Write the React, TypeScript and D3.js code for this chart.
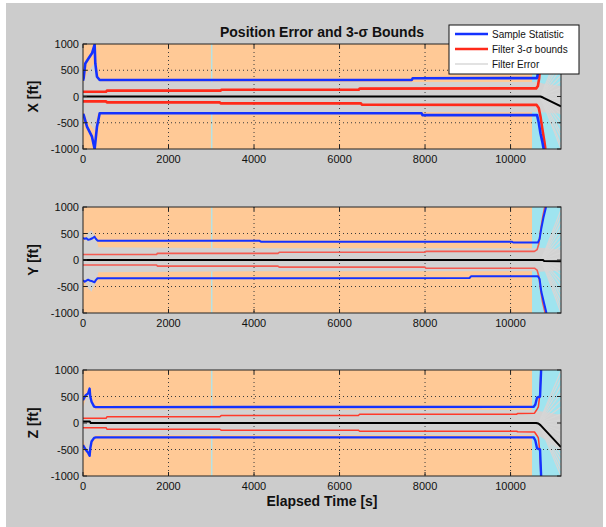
import React from "react";
import * as d3 from "d3";

type Pt = [number, number];

const T_MAX = 11180;
const CYAN_START = 10503;
const phaseMarks = [3010];
const timeTicks = [0, 2000, 4000, 6000, 8000, 10000];
const valueTicks = [-1000, -500, 0, 500, 1000];
const gridValues = [-500, 500];

const titleText = "Position Error and 3-\u03C3 Bounds";
const xLabelText = "Elapsed Time [s]";
const legendLabels = ["Sample Statistic", "Filter 3-\u03C3 bounds", "Filter Error"];

// ---------- X ----------
const xSampleUpper: Pt[] = [[0, 300], [15, 347], [54, 630], [132, 727], [210, 822], [272, 990], [288, 630], [327, 377], [390, 314], [7690, 314], [7710, 347], [10620, 350], [10650, 500], [10680, 800], [10700, 1000]];
const xSampleLower: Pt[] = [[0, -330], [15, -352], [93, -575], [210, -765], [272, -1000], [327, -575], [390, -320], [7920, -320], [7940, -355], [10620, -355], [10660, -500], [10700, -700], [10740, -850], [10775, -1000]];
const xBoundUpper: Pt[] = [[0, 90], [540, 90], [560, 112], [3220, 112], [3240, 128], [6450, 128], [6470, 150], [10600, 155], [10640, 200], [10670, 350], [10700, 650], [10720, 1000]];
const xBoundLower: Pt[] = [[0, -92], [540, -92], [560, -112], [3200, -112], [3220, -130], [6500, -130], [6520, -155], [10610, -160], [10660, -220], [10700, -380], [10740, -600], [10790, -850], [10815, -1000]];
const xMean: Pt[] = [[0, 0], [10700, 0], [10760, -20], [11180, -190]];
const xErrTimes = [0, 100, 200, 280, 330, 450, 3000, 6000, 10500, 10650, 10750, 11180];
const xErrUpper = [250, 450, 560, 650, 330, 285, 280, 275, 275, 280, 250, 200];
const xErrLower = [-250, -450, -560, -650, -340, -295, -295, -295, -300, -300, -300, -330];
const xFanEnds = [-1000, -920, -780, -690, -560, -460, -340, -250, -150, -60, 60, 170, 290, 400, 530, 660, 800, 950];

// ---------- Y ----------
const ySampleUpper: Pt[] = [[0, 420], [40, 400], [80, 410], [120, 380], [170, 392], [220, 410], [270, 440], [300, 400], [340, 365], [4120, 365], [4160, 345], [10030, 345], [10060, 330], [10640, 330], [10680, 400], [10720, 600], [10770, 800], [10830, 1000]];
const ySampleLower: Pt[] = [[0, -380], [40, -410], [80, -390], [120, -372], [170, -392], [220, -402], [270, -420], [300, -380], [340, -345], [9040, -340], [9080, -305], [10640, -305], [10680, -360], [10720, -600], [10780, -800], [10840, -1000]];
const yBoundUpper: Pt[] = [[0, 105], [1720, 105], [1740, 125], [4560, 125], [4590, 145], [8000, 145], [8020, 162], [10560, 162], [10620, 195], [10660, 300], [10700, 550], [10750, 800], [10800, 1000]];
const yBoundLower: Pt[] = [[0, -95], [1720, -95], [1740, -115], [4560, -115], [4590, -135], [8000, -135], [8020, -155], [10560, -155], [10620, -190], [10660, -300], [10700, -550], [10750, -800], [10810, -1000]];
const yMean: Pt[] = [[0, 0], [10760, 0], [10780, -18], [11180, -25]];
const yErrTimes = [0, 100, 200, 300, 360, 3000, 8000, 10500, 10700, 11180];
const yErrUpper = [300, 500, 560, 420, 240, 225, 220, 220, 230, 200];
const yErrLower = [-320, -520, -600, -420, -230, -215, -210, -210, -220, -200];
const yFanEnds = [-1000, -900, -800, -690, -600, -480, -390, -270, -170, -80, 40, 140, 260, 370, 480, 600, 720, 840, 950];

// ---------- Z ----------
const zSampleUpper: Pt[] = [[0, 430], [60, 520], [120, 560], [155, 650], [170, 500], [200, 400], [260, 310], [300, 300], [10540, 305], [10580, 350], [10620, 480], [10690, 500], [10700, 700], [10715, 1000]];
const zSampleLower: Pt[] = [[0, -415], [60, -500], [120, -560], [155, -620], [170, -480], [200, -350], [260, -280], [300, -272], [10540, -272], [10580, -330], [10620, -480], [10690, -500], [10700, -700], [10715, -1000]];
const zBoundUpper: Pt[] = [[0, 88], [540, 88], [560, 118], [3200, 118], [3230, 140], [6440, 140], [6470, 165], [10140, 165], [10170, 180], [10560, 185], [10620, 260], [10650, 305], [10680, 500], [10700, 800], [10710, 1000]];
const zBoundLower: Pt[] = [[0, -88], [540, -88], [560, -118], [3200, -118], [3230, -135], [6440, -135], [6470, -155], [10140, -155], [10170, -165], [10560, -170], [10620, -240], [10650, -280], [10680, -500], [10700, -800], [10710, -1000]];
const zMean: Pt[] = [[0, 30], [160, 30], [180, 0], [10600, 0], [10650, -10], [10700, -40], [11180, -455]];
const zErrTimes = [0, 80, 155, 200, 280, 3000, 8000, 10500, 10700, 11180];
const zErrUpper = [300, 480, 560, 380, 250, 250, 245, 245, 220, 150];
const zErrLower = [-300, -480, -540, -360, -230, -228, -228, -228, -260, -520];
const zFanEnds = [-1000, -900, -800, -700, -610, -520, -430, -330, -240, -150, -60, 60, 170, 300, 430, 560, 700, 850, 980];

const PEACH = "#ffc996";
const CYAN = "#9fe4ef";
const FIG_BG = "#cccccc";
const BAND = "#d2d2d2";
const FAN = "#d6d6d6";
const BLUE = "#1432ff";
const RED = "#ff2a1a";
const FONT = "'Liberation Sans', Arial, Helvetica, sans-serif";

const LEFT = 83;
const RIGHT = 561;

interface SubProps {
  id: string;
  top: number;
  bottom: number;
  label: string;
  sUp: Pt[];
  sLo: Pt[];
  bUp: Pt[];
  bLo: Pt[];
  mean: Pt[];
  eT: number[];
  eUp: number[];
  eLo: number[];
  fan: number[];
  fanStart: number;
  blueW: number;
  redW: number;
  redColor: string;
}

function Subplot(p: SubProps) {
  const x = d3.scaleLinear().domain([0, T_MAX]).range([LEFT, RIGHT]);
  const y = d3.scaleLinear().domain([-1000, 1000]).range([p.bottom, p.top]);
  const line = d3.line<Pt>().x((d) => x(d[0])).y((d) => y(d[1]));
  const area = d3
    .area<number>()
    .x((t) => x(t))
    .y0((_t, i) => y(p.eLo[i]))
    .y1((_t, i) => y(p.eUp[i]));
  const bandPath = area(p.eT) || "";
  const clipId = `clip-${p.id}`;
  const h = p.bottom - p.top;
  const cy = (p.top + p.bottom) / 2;
  return (
    <g>
      <defs>
        <clipPath id={clipId}>
          <rect x={LEFT} y={p.top} width={RIGHT - LEFT} height={h} />
        </clipPath>
      </defs>
      <g clipPath={`url(#${clipId})`}>
        <rect x={x(0)} y={p.top} width={x(CYAN_START) - x(0)} height={h} fill={PEACH} />
        <rect x={x(CYAN_START)} y={p.top} width={x(T_MAX) - x(CYAN_START)} height={h} fill={CYAN} />
        {phaseMarks.map((t) => (
          <line key={t} x1={x(t)} x2={x(t)} y1={p.top} y2={p.bottom} stroke="#b4e2e6" strokeWidth={1.5} />
        ))}
        <path d={bandPath} fill={BAND} stroke="none" />
        {p.fan.map((v, i) => (
          <line key={i} x1={x(p.fanStart)} y1={y(0)} x2={x(T_MAX)} y2={y(v)} stroke={FAN} strokeWidth={1.2} />
        ))}
        {timeTicks.slice(1).map((t) => (
          <line key={t} x1={x(t)} x2={x(t)} y1={p.top} y2={p.bottom} stroke="#3a3a3a" strokeWidth={1} strokeDasharray="1,3" />
        ))}
        {gridValues.map((v) => (
          <line key={v} x1={LEFT} x2={RIGHT} y1={y(v)} y2={y(v)} stroke="#3a3a3a" strokeWidth={1} strokeDasharray="1,3" />
        ))}
        <path d={line(p.bUp) || ""} fill="none" stroke={p.redColor} strokeWidth={p.redW} strokeLinejoin="round" />
        <path d={line(p.bLo) || ""} fill="none" stroke={p.redColor} strokeWidth={p.redW} strokeLinejoin="round" />
        <path d={line(p.sUp) || ""} fill="none" stroke={BLUE} strokeWidth={p.blueW} strokeLinejoin="round" />
        <path d={line(p.sLo) || ""} fill="none" stroke={BLUE} strokeWidth={p.blueW} strokeLinejoin="round" />
        <path d={line(p.mean) || ""} fill="none" stroke="#000" strokeWidth={2} strokeLinejoin="round" />
      </g>
      <rect x={LEFT} y={p.top} width={RIGHT - LEFT} height={h} fill="none" stroke="#222" strokeWidth={1} />
      {timeTicks.map((t) => (
        <g key={t}>
          <line x1={x(t)} x2={x(t)} y1={p.bottom} y2={p.bottom - 4} stroke="#222" />
          <line x1={x(t)} x2={x(t)} y1={p.top} y2={p.top + 4} stroke="#222" />
          <text x={x(t)} y={p.bottom + 14} fontSize={11} fontFamily={FONT} textAnchor="middle" fill="#111">
            {t}
          </text>
        </g>
      ))}
      {valueTicks.map((v) => (
        <g key={v}>
          <line x1={LEFT} x2={LEFT + 4} y1={y(v)} y2={y(v)} stroke="#222" />
          <line x1={RIGHT} x2={RIGHT - 4} y1={y(v)} y2={y(v)} stroke="#222" />
          <text x={LEFT - 4} y={y(v) + 4} fontSize={11} fontFamily={FONT} textAnchor="end" fill="#111">
            {v}
          </text>
        </g>
      ))}
      <text
        transform={`translate(38,${cy}) rotate(-90)`}
        fontSize={14}
        fontWeight="bold"
        fontFamily={FONT}
        textAnchor="middle"
        fill="#111"
      >
        {p.label}
      </text>
    </g>
  );
}

export default function App() {
  const legendColors = [BLUE, RED, "#d8d8d8"];
  return (
    <svg
      width={606}
      height={527}
      style={{ position: "absolute", left: 0, top: 0, background: "#fff" }}
    >
      <rect x={6} y={3} width={597} height={524} fill={FIG_BG} />
      <text x={322} y={37} fontSize={14} fontWeight="bold" fontFamily={FONT} textAnchor="middle" fill="#111">
        {titleText}
      </text>
      <Subplot id="x" top={44} bottom={149} label="X [ft]" sUp={xSampleUpper} sLo={xSampleLower} bUp={xBoundUpper} bLo={xBoundLower} mean={xMean} eT={xErrTimes} eUp={xErrUpper} eLo={xErrLower} fan={xFanEnds} fanStart={10700} blueW={2.6} redW={2.6} redColor={RED} />
      <Subplot id="y" top={207} bottom={313} label="Y [ft]" sUp={ySampleUpper} sLo={ySampleLower} bUp={yBoundUpper} bLo={yBoundLower} mean={yMean} eT={yErrTimes} eUp={yErrUpper} eLo={yErrLower} fan={yFanEnds} fanStart={10720} blueW={2} redW={1.6} redColor="#f45a50" />
      <Subplot id="z" top={370} bottom={476} label="Z [ft]" sUp={zSampleUpper} sLo={zSampleLower} bUp={zBoundUpper} bLo={zBoundLower} mean={zMean} eT={zErrTimes} eUp={zErrUpper} eLo={zErrLower} fan={zFanEnds} fanStart={10660} blueW={2.4} redW={1.5} redColor="#ff3a2a" />
      <text x={322} y={506} fontSize={14} fontWeight="bold" fontFamily={FONT} textAnchor="middle" fill="#111">
        {xLabelText}
      </text>
      <g>
        <rect x={449} y={25} width={130} height={49} fill="#fff" stroke="#111" strokeWidth={1} />
        {legendLabels.map((lab, i) => (
          <g key={lab}>
            <line x1={455} x2={488} y1={34 + i * 15} y2={34 + i * 15} stroke={legendColors[i]} strokeWidth={i === 2 ? 1.5 : 2.4} />
            <text x={492} y={37.5 + i * 15} fontSize={10} fontFamily={FONT} fill="#111">
              {lab}
            </text>
          </g>
        ))}
      </g>
    </svg>
  );
}
